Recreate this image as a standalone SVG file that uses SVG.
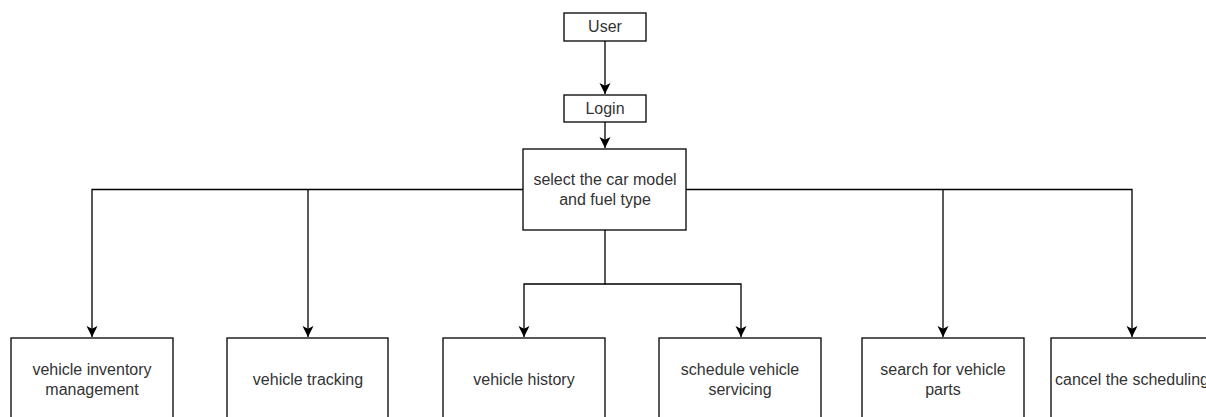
<svg xmlns="http://www.w3.org/2000/svg" width="1206" height="417" viewBox="0 0 1206 417">
<defs>
<style>
.box{fill:#fff;stroke:#000;stroke-width:1.3}
.t{font-family:"Liberation Sans",Arial,sans-serif;font-size:16px;fill:#333;text-anchor:middle}
.c{fill:none;stroke:#000;stroke-width:1.3}
</style>
<marker id="ah" markerWidth="11" markerHeight="12" refX="10" refY="5" orient="auto" markerUnits="userSpaceOnUse" viewBox="0 0 10 10">
<path d="M0,0 L10,5 L0,10 L2.5,5 Z" fill="#000"/>
</marker>
</defs>
<rect width="1206" height="417" fill="#fff"/>
<g id="connectors">
<path class="c" d="M605,41 V94" marker-end="url(#ah)"/>
<path class="c" d="M605,122 V148" marker-end="url(#ah)"/>
<path class="c" d="M523,189.5 H92 V337" marker-end="url(#ah)"/>
<path class="c" d="M308,189.5 V337" marker-end="url(#ah)"/>
<path class="c" d="M686,189.5 H1132 V337" marker-end="url(#ah)"/>
<path class="c" d="M943,189.5 V337" marker-end="url(#ah)"/>
<path class="c" d="M605,230 V284 H524 V337" marker-end="url(#ah)"/>
<path class="c" d="M605,284 H741 V337" marker-end="url(#ah)"/>
</g>
<g id="user">
<rect class="box" x="564" y="13" width="82" height="28"/>
<text class="t" x="605" y="32">User</text>
</g>
<g id="login">
<rect class="box" x="564" y="95" width="82" height="27"/>
<text class="t" x="605" y="114">Login</text>
</g>
<g id="select">
<rect class="box" x="523" y="149" width="163" height="81"/>
<text class="t" x="605" y="185">select the car model</text>
<text class="t" x="605" y="205">and fuel type</text>
</g>
<g id="inventory">
<rect class="box" x="11" y="338" width="162" height="82"/>
<text class="t" x="92" y="375">vehicle inventory</text>
<text class="t" x="92" y="395">management</text>
</g>
<g id="tracking">
<rect class="box" x="227" y="338" width="161" height="82"/>
<text class="t" x="308" y="385">vehicle tracking</text>
</g>
<g id="history">
<rect class="box" x="443" y="338" width="162" height="82"/>
<text class="t" x="524" y="385">vehicle history</text>
</g>
<g id="servicing">
<rect class="box" x="659" y="338" width="162" height="82"/>
<text class="t" x="740" y="375">schedule vehicle</text>
<text class="t" x="740" y="395">servicing</text>
</g>
<g id="parts">
<rect class="box" x="862" y="338" width="162" height="82"/>
<text class="t" x="943" y="375">search for vehicle</text>
<text class="t" x="943" y="395">parts</text>
</g>
<g id="cancel">
<rect class="box" x="1051" y="338" width="162" height="82"/>
<text class="t" x="1132" y="385">cancel the scheduling</text>
</g>
</svg>
